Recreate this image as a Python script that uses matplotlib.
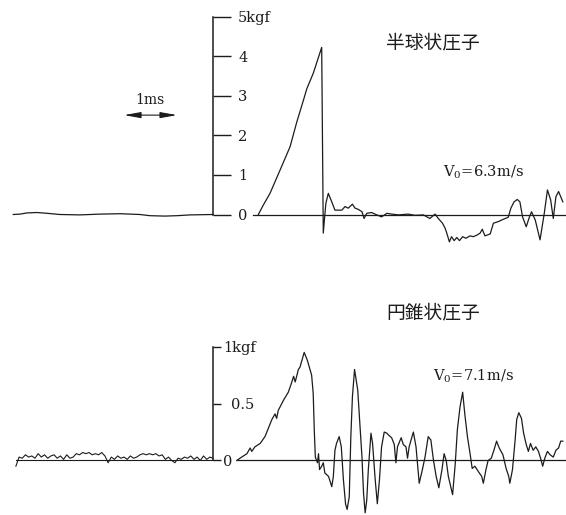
import matplotlib
matplotlib.use("Agg")
import matplotlib.pyplot as plt

plt.rcParams["font.family"] = ["DejaVu Serif"]
plt.rcParams["mathtext.fontset"] = "dejavuserif"

JP_FONT = ["Noto Sans CJK JP", "DejaVu Sans"]
INK = "#1c1c1c"

# --- upper record: hemispherical indenter (time in ms, force in kgf) ---
hemi_pre_t = [-3.77, -3.64, -3.51, -3.32, -3.13, -2.89, -2.51, -2.13, -1.75,
              -1.38, -1.19, -0.91, -0.68, -0.43, 0.0]
hemi_pre_f = [0.0, 0.01, 0.04, 0.05, 0.03, 0.0, -0.01, 0.01, 0.02,
              0.0, -0.03, -0.04, -0.03, -0.01, 0.0]

hemi_t = [0.855, 0.949, 1.075, 1.264, 1.453, 1.579, 1.704, 1.768, 1.892, 2.05,
          2.08, 2.11, 2.13, 2.175, 2.24, 2.30, 2.36, 2.43, 2.49, 2.55, 2.63,
          2.68, 2.74, 2.81, 2.85, 2.90, 2.99, 3.09, 3.18, 3.28, 3.37, 3.50,
          3.68, 3.81, 3.97, 4.09, 4.19, 4.25, 4.33, 4.38, 4.41, 4.46, 4.50,
          4.55, 4.60, 4.65, 4.71, 4.77, 4.85, 4.91, 4.98, 5.04, 5.08, 5.13,
          5.23, 5.29, 5.38, 5.48, 5.57, 5.62, 5.68, 5.74, 5.79, 5.84, 5.91,
          5.97, 6.01, 6.08, 6.17, 6.25, 6.31, 6.37, 6.42, 6.47, 6.52, 6.56,
          6.60]
hemi_f = [0.0, 0.24, 0.535, 1.12, 1.71, 2.33, 2.88, 3.17, 3.57, 4.22,
          -0.47, 0.0, 0.29, 0.535, 0.32, 0.11, 0.11, 0.11, 0.20, 0.16, 0.26,
          0.16, 0.13, 0.07, -0.10, 0.03, 0.05, -0.01, -0.06, 0.03, 0.01, -0.01,
          0.01, -0.02, -0.01, -0.10, 0.01, -0.10, -0.22, -0.35, -0.47, -0.69, -0.56,
          -0.66, -0.58, -0.66, -0.56, -0.60, -0.54, -0.56, -0.52, -0.47, -0.37, -0.54,
          -0.49, -0.22, -0.18, -0.12, -0.07, 0.16, 0.32, 0.38, 0.32, -0.06, -0.31,
          -0.06, 0.07, -0.14, -0.64, 0.03, 0.62, 0.37, -0.10, 0.45, 0.58, 0.45,
          0.32]

# --- lower record: conical indenter ---
cone_pre_t = [-3.72, -3.66, -3.60, -3.54, -3.48, -3.42, -3.36, -3.30, -3.24,
              -3.18, -3.12, -3.06, -3.00, -2.94, -2.88, -2.82, -2.76, -2.70,
              -2.64, -2.58, -2.52, -2.46, -2.40, -2.34, -2.28, -2.22, -2.16,
              -2.10, -2.04, -1.98, -1.92, -1.86, -1.80, -1.74, -1.68, -1.62,
              -1.56, -1.50, -1.44, -1.38, -1.32, -1.26, -1.20, -1.14, -1.08,
              -1.02, -0.96, -0.90, -0.84, -0.78, -0.72, -0.66, -0.60, -0.54,
              -0.48, -0.42, -0.36, -0.30, -0.24, -0.18, -0.12, -0.06, 0.0]
cone_pre_f = [-0.05, 0.03, 0.02, 0.05, 0.03, 0.04, 0.02, 0.06, 0.03,
              0.05, 0.02, 0.04, 0.05, 0.02, 0.04, 0.01, 0.05, 0.02,
              0.03, 0.06, 0.05, 0.07, 0.06, 0.07, 0.05, 0.06, 0.05,
              0.07, 0.04, -0.02, 0.03, 0.01, 0.04, 0.02, 0.03, 0.01,
              0.04, 0.02, 0.03, 0.05, 0.06, 0.05, 0.06, 0.05, 0.06,
              0.04, 0.05, 0.01, 0.03, 0.00, -0.02, 0.02, 0.01, 0.03,
              0.02, 0.04, 0.01, 0.03, 0.00, 0.04, 0.01, 0.03, 0.02]

cone_t = [0.447, 0.54, 0.64, 0.70, 0.73, 0.79, 0.89, 0.98, 1.04, 1.11, 1.17,
          1.20, 1.23, 1.33, 1.42, 1.48, 1.52, 1.55, 1.61, 1.64, 1.72, 1.78,
          1.86, 1.89, 1.91, 1.93, 1.97, 1.99, 2.01, 2.05, 2.08, 2.11, 2.18,
          2.24, 2.27, 2.30, 2.33, 2.38, 2.42, 2.46, 2.50, 2.53, 2.57, 2.60,
          2.63, 2.67, 2.69, 2.73, 2.77, 2.81, 2.84, 2.87, 2.90, 2.93, 2.98,
          3.01, 3.06, 3.10, 3.14, 3.18, 3.23, 3.28, 3.32, 3.37, 3.42, 3.45,
          3.48, 3.55, 3.59, 3.64, 3.67, 3.70, 3.78, 3.83, 3.89, 3.95, 4.00,
          4.06, 4.11, 4.16, 4.21, 4.26, 4.32, 4.36, 4.40, 4.44, 4.47, 4.52,
          4.57, 4.61, 4.66, 4.71, 4.75, 4.80, 4.85, 4.89, 4.94, 5.01, 5.07,
          5.10, 5.15, 5.19, 5.25, 5.30, 5.35, 5.40, 5.47, 5.53, 5.58, 5.60,
          5.65, 5.70, 5.73, 5.77, 5.82, 5.86, 5.91, 5.95, 5.99, 6.04, 6.09,
          6.14, 6.18, 6.22, 6.26, 6.31, 6.36, 6.42, 6.47, 6.52, 6.56, 6.60]
cone_f = [0.0, 0.03, 0.06, 0.11, 0.08, 0.12, 0.15, 0.21, 0.28, 0.36, 0.41,
          0.37, 0.44, 0.53, 0.60, 0.68, 0.74, 0.69, 0.80, 0.82, 0.95, 0.88,
          0.75, 0.59, 0.27, 0.03, -0.02, 0.06, -0.08, -0.05, -0.02, -0.11, -0.14,
          -0.23, -0.14, 0.09, 0.15, 0.21, 0.12, -0.17, -0.38, -0.43, -0.32, 0.21,
          0.56, 0.80, 0.74, 0.62, 0.33, 0.03, -0.29, -0.46, -0.35, -0.08, 0.24,
          0.15, -0.17, -0.38, -0.17, 0.12, 0.25, 0.24, 0.22, 0.20, 0.14, -0.02,
          0.12, 0.20, 0.14, 0.12, 0.02, 0.12, 0.25, 0.12, -0.20, -0.08, 0.03,
          0.21, 0.18, 0.00, -0.14, -0.24, -0.08, 0.06, 0.00, -0.14, -0.20, -0.30,
          -0.03, 0.27, 0.47, 0.60, 0.41, 0.21, 0.06, -0.07, -0.05, -0.10, -0.14,
          -0.20, -0.08, 0.00, 0.02, 0.09, 0.17, 0.11, 0.05, -0.07, -0.14, -0.20,
          -0.08, 0.18, 0.36, 0.42, 0.37, 0.24, 0.14, 0.08, 0.15, 0.09, 0.12,
          0.08, 0.02, -0.05, 0.02, 0.08, 0.05, 0.03, 0.09, 0.11, 0.17, 0.17]

hemi_ticks = [0, 1, 2, 3, 4, 5]
hemi_tick_labels = ["0", "1", "2", "3", "4", "5kgf"]
cone_ticks = [0, 0.5, 1]
cone_tick_labels = ["0", "0.5", "1kgf"]

T_MIN, T_MAX = -4.02, 6.66


def style_axis(ax, ticks, labels, tick_len, pad):
    for side in ("top", "bottom", "left"):
        ax.spines[side].set_visible(False)
    ax.spines["right"].set_position(("data", 0))
    ax.spines["right"].set_bounds(ticks[0], ticks[-1])
    ax.spines["right"].set_linewidth(1.1)
    ax.spines["right"].set_color(INK)
    ax.xaxis.set_visible(False)
    ax.yaxis.tick_right()
    ax.set_yticks(ticks)
    ax.set_yticklabels(labels)
    ax.tick_params(axis="y", direction="out", length=tick_len, width=1.0,
                   pad=pad, labelsize=10.5, colors=INK)
    ax.set_xlim(T_MIN, T_MAX)
    ax.patch.set_alpha(0)


fig = plt.figure(figsize=(5.66, 5.15), dpi=100)

# upper panel
ax1 = fig.add_axes([0, 1 - 260 / 515, 1, 260 / 515])
style_axis(ax1, hemi_ticks, hemi_tick_labels, 13, 5)
ax1.set_ylim(-1.149, 5.417)
ax1.plot(hemi_pre_t, hemi_pre_f, color=INK, lw=0.9)
ax1.plot(hemi_t, hemi_f, color=INK, lw=0.9)
ax1.plot([0.75, T_MAX], [0, 0], color=INK, lw=0.9)
ax1.annotate("", xy=(-0.68, 2.51), xytext=(-1.68, 2.51),
             arrowprops=dict(arrowstyle="<|-|>,head_length=1.0,head_width=0.18",
                             color=INK, lw=0.8, mutation_scale=10,
                             shrinkA=0, shrinkB=0))
ax1.text(-1.19, 2.89, "1ms", ha="center", va="center", fontsize=10, color=INK)
ax1.text(4.15, 4.33, "半球状圧子", family=JP_FONT, ha="center", va="center",
         fontsize=13.5, color=INK)
ax1.text(4.34, 1.07, r"V$_0$=6.3m/s", ha="left", va="center", fontsize=10.5,
         color=INK)

# lower panel
ax2 = fig.add_axes([0, 0, 1, 255 / 515])
style_axis(ax2, cone_ticks, cone_tick_labels, 6, 1)
ax2.set_ylim(-0.479, 1.762)
ax2.plot([cone_pre_t[0], 0], [0, 0], color=INK, lw=0.8)
ax2.plot(cone_pre_t, cone_pre_f, color=INK, lw=0.8)
ax2.plot(cone_t, cone_f, color=INK, lw=0.9)
ax2.plot([0.447, T_MAX], [0, 0], color=INK, lw=0.9)
ax2.text(4.15, 1.30, "円錐状圧子", family=JP_FONT, ha="center", va="center",
         fontsize=13.5, color=INK)
ax2.text(4.15, 0.74, r"V$_0$=7.1m/s", ha="left", va="center", fontsize=10.5,
         color=INK)

# per-tick tweaks: longer tick at 0.5, none at 0
ticks2 = ax2.yaxis.get_major_ticks()
ticks2[0].tick2line.set_markersize(0)
ticks2[0].set_pad(1.5)
ticks2[1].tick2line.set_markersize(11.5)
ticks2[1].set_pad(7)

fig.savefig("out.png", dpi=100, facecolor="white")
